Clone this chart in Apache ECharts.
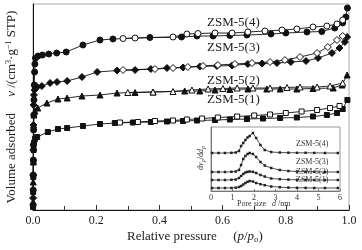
<!DOCTYPE html>
<html><head><meta charset="utf-8">
<script src="https://cdn.jsdelivr.net/npm/echarts@6/dist/echarts.min.js"></script>
<style>html,body{margin:0;padding:0;background:#fff}#c{width:362px;height:250px}</style>
</head><body><div id="c"></div>
<script>
// Main isotherms: relative pressure p/p0 and adsorbed volume (arbitrary units)
var s4AdsP = [0.0003,0.0006,0.0009,0.0012,0.0016,0.002,0.0025,0.003,0.004,0.005,0.006,0.008,0.016,0.03,0.05,0.075,0.105,0.158,0.212,0.253,0.37,0.47,0.519,0.57,0.623,0.677,0.753,0.80,0.867,0.914,0.955,0.98,0.99,0.995];
var s4AdsV = [5,20,35,50,65,80,95,110,125,138,146,152,154,155,156,157,158,165,170,171,172.5,173,174,174,174.5,175,176,177,178,178.5,182,187,193,202];
var s4DesP = [0.98,0.962,0.93,0.886,0.835,0.788,0.734,0.68,0.63,0.576,0.522,0.487,0.443,0.323,0.285];
var s4DesV = [190,186,184,183,181,180,179,178,177,177,176.5,176,173,172,171.5];

var s3AdsP = [0.0003,0.0006,0.001,0.0015,0.002,0.003,0.005,0.013,0.028,0.054,0.076,0.108,0.155,0.203,0.266,0.323,0.373,0.424,0.475,0.528,0.582,0.63,0.68,0.725,0.772,0.816,0.864,0.902,0.946,0.97,0.987,0.994];
var s3AdsV = [12,35,60,85,105,115,120,123,124,127,128,129,133,138,139.5,140,141,142,142.5,143.5,144,144.5,146,146.5,147,148,149,152,157,162,168,173];
var s3DesP = [0.98,0.962,0.933,0.899,0.845,0.797,0.75,0.693,0.639,0.585,0.538,0.49,0.443,0.386,0.285];
var s3DesV = [174,170,163,157,153,150,148,147,146,145,144,143,142,141,140];

var s2AdsP = [0.0003,0.0006,0.001,0.0015,0.002,0.003,0.006,0.015,0.044,0.079,0.108,0.155,0.212,0.266,0.323,0.38,0.48,0.528,0.576,0.623,0.68,0.74,0.782,0.835,0.886,0.95,0.978,0.994];
var s2AdsV = [8,28,48,68,85,95,99,102,107,111,112,114,115,117,117.5,118,119,119,120,120.5,121,121,121,121,121.5,122,125,135];
var s2DesP = [0.98,0.94,0.899,0.845,0.804,0.75,0.696,0.646,0.601,0.554,0.503,0.443,0.38,0.30];
var s2DesV = [127,124,123,123,122.5,122,122,122,121.5,121,120,118.5,118,117.5];

var s1AdsP = [0.0003,0.0006,0.001,0.0015,0.002,0.003,0.006,0.013,0.047,0.079,0.108,0.158,0.212,0.259,0.316,0.373,0.424,0.475,0.519,0.576,0.623,0.677,0.728,0.782,0.835,0.886,0.93,0.962,0.98,0.995];
var s1AdsV = [3,18,33,48,60,67,71,73,78,81,82,84,86,87,87.5,88,88.5,89,89.5,90,90.5,91,91.5,92,92.5,93.5,95,97,101,110];
var s1DesP = [0.97,0.94,0.899,0.85,0.80,0.75,0.70,0.646,0.585,0.535,0.487,0.443,0.386,0.332,0.275];
var s1DesV = [104,102,100,98.5,97,95.5,94.5,93.5,92.5,91.5,90.5,89.5,89,88,87.5];

var sampleNames = ['ZSM-5(1)','ZSM-5(2)','ZSM-5(3)','ZSM-5(4)'];
var xTicks = ['0.0','0.2','0.4','0.6','0.8','1.0'];

// Inset: pore size distribution
var poreD = [0.05,0.35,0.65,0.95,1.15,1.3,1.4,1.5,1.6,1.7,1.8,1.95,2.1,2.3,2.5,2.8,3.2,3.6,4.0,4.4,4.8,5.3,5.9];
var psd4 = [38,38,38,38.2,38.5,40,45,48,51,53.5,55,58,53,46,41,39,38.5,38.3,38.2,38.2,38.1,38,38];
var psd3 = [19,19,19,19.2,19.5,21,26,32,35,37,38,37,34,29,25.5,23,21,20,19.5,19.3,19.2,19,19];
var psd2 = [11,11,11,11.2,11.5,13,15,17,18.5,19.2,19.5,19.2,18,16,14.5,12.5,11.8,11.4,11.2,11.1,11,11,11];
var psd1 = [3,3,3,3.1,3.3,4,5,6.5,8,9.2,10,9.5,8,6.8,5.8,4.5,3.8,3.4,3.2,3.1,3,3,3];
var insetTicks = ['0','1','2','3','4','5','6'];

function zip(a,b){return a.map(function(v,i){return [v,b[i]];});}
var F = 'Liberation Serif';
var chart = echarts.init(document.getElementById('c'), null, {renderer:'canvas'});

function iso(p,v,sym,size,open){
  return {type:'line', xAxisIndex:0, yAxisIndex:0, data:zip(p,v), symbol:sym, symbolSize:size,
    showSymbol:true, animation:false, z: open?4:3,
    lineStyle:{color:'#111',width:0.9},
    itemStyle:{color: open?'#fff':'#111', borderColor:'#111', borderWidth:1}};
}
function psd(v){
  return {type:'line', xAxisIndex:1, yAxisIndex:1, data:zip(poreD,v), symbol:'rect', symbolSize:2.5,
    showSymbol:true, animation:false, z:6,
    lineStyle:{color:'#222',width:0.8}, itemStyle:{color:'#222'}};
}

var option = {
  backgroundColor:'#fff',
  animation:false,
  grid:[
    {left:33, top:4, width:316, height:206, show:true, borderColor:'#aaa', borderWidth:1, backgroundColor:'#fff'},
    {left:211, top:127, width:129, height:64, show:true, borderColor:'#999', borderWidth:1, backgroundColor:'#fff', z:5}
  ],
  xAxis:[
    {type:'value', gridIndex:0, min:0, max:1, interval:0.2,
     axisLine:{lineStyle:{color:'#111',width:1}},
     axisTick:{inside:true,length:5,lineStyle:{color:'#333'}},
     minorTick:{show:true,splitNumber:2,length:4,lineStyle:{color:'#333'}},
     splitLine:{show:false},
     axisLabel:{fontFamily:F,fontSize:12,color:'#222',margin:5,
       formatter:function(v){return xTicks[Math.round(v/0.2)];}}},
    {type:'value', gridIndex:1, min:0, max:6, interval:1, z:6,
     axisLine:{lineStyle:{color:'#777',width:1}},
     axisTick:{inside:true,length:2,lineStyle:{color:'#777'}},
     splitLine:{show:false},
     axisLabel:{fontFamily:F,fontSize:8,color:'#333',margin:3,
       formatter:function(v){return insetTicks[Math.round(v)];}}}
  ],
  yAxis:[
    {type:'value', gridIndex:0, min:0, max:206,
     axisLine:{show:true,lineStyle:{color:'#111',width:1}},
     axisTick:{show:false}, axisLabel:{show:false}, splitLine:{show:false}},
    {type:'value', gridIndex:1, min:0, max:64, z:6,
     axisLine:{show:true,lineStyle:{color:'#777',width:1}},
     axisTick:{show:false}, axisLabel:{show:false}, splitLine:{show:false}}
  ],
  series:[
    iso(s1AdsP,s1AdsV,'rect',5,false), iso(s1DesP,s1DesV,'rect',5,true),
    iso(s2AdsP,s2AdsV,'triangle',6,false), iso(s2DesP,s2DesV,'triangle',6,true),
    iso(s3AdsP,s3AdsV,'diamond',7,false), iso(s3DesP,s3DesV,'diamond',7,true),
    iso(s4AdsP,s4AdsV,'circle',6,false), iso(s4DesP,s4DesV,'circle',6,true),
    psd(psd1), psd(psd2), psd(psd3), psd(psd4)
  ],
  graphic:[
    {type:'text', left:207, top:16, z:10, style:{text:sampleNames[3], font:'13px "Liberation Serif"', fill:'#222'}},
    {type:'text', left:207, top:41, z:10, style:{text:sampleNames[2], font:'13px "Liberation Serif"', fill:'#222'}},
    {type:'text', left:207, top:74, z:10, style:{text:sampleNames[1], font:'13px "Liberation Serif"', fill:'#222'}},
    {type:'text', left:207, top:93, z:10, style:{text:sampleNames[0], font:'13px "Liberation Serif"', fill:'#222'}},
    {type:'text', left:296, top:140, z:10, style:{text:sampleNames[3], font:'8px "Liberation Serif"', fill:'#333'}},
    {type:'text', left:296, top:158, z:10, style:{text:sampleNames[2], font:'8px "Liberation Serif"', fill:'#333'}},
    {type:'text', left:296, top:168, z:10, style:{text:sampleNames[1], font:'8px "Liberation Serif"', fill:'#333'}},
    {type:'text', left:296, top:176, z:10, style:{text:sampleNames[0], font:'8px "Liberation Serif"', fill:'#333'}},
    {type:'text', left:237, top:200, z:10, style:{
      text:'Pore size   {i|d} /nm', font:'8px "Liberation Serif"', fill:'#333',
      rich:{i:{fontStyle:'italic',fontFamily:F,fontSize:8,fill:'#333'}}}},
    {type:'text', x:201, y:158, rotation:Math.PI/2, z:10, style:{
      text:'d{i|v}{s|p}/d{i|d}{s|p}', x:0, y:0, align:'center', verticalAlign:'middle',
      font:'8px "Liberation Serif"', fill:'#333',
      rich:{i:{fontStyle:'italic',fontFamily:F,fontSize:8,fill:'#333'},
            s:{fontStyle:'italic',fontFamily:F,fontSize:6,fill:'#333',padding:[4,0,0,0]}}}},
    {type:'text', left:127, top:230, z:10, style:{
      text:'Relative pressure     ({i|p}/{i|p}{s|o})', font:'13px "Liberation Serif"', fill:'#222',
      rich:{i:{fontStyle:'italic',fontFamily:F,fontSize:13,fill:'#222'},
            s:{fontFamily:F,fontSize:9,fill:'#222',padding:[6,0,0,0]}}}},
    {type:'text', x:12, y:107, rotation:Math.PI/2, z:10, style:{
      text:'Volume adsorbed     {i|v} /(cm{u|3}·g{u|−1} STP)', x:0, y:0, align:'center', verticalAlign:'middle',
      font:'13px "Liberation Serif"', fill:'#222',
      rich:{i:{fontStyle:'italic',fontFamily:F,fontSize:13,fill:'#222'},
            u:{fontFamily:F,fontSize:8,fill:'#222',padding:[0,0,6,0]}}}}
  ]
};
chart.setOption(option);
</script></body></html>
